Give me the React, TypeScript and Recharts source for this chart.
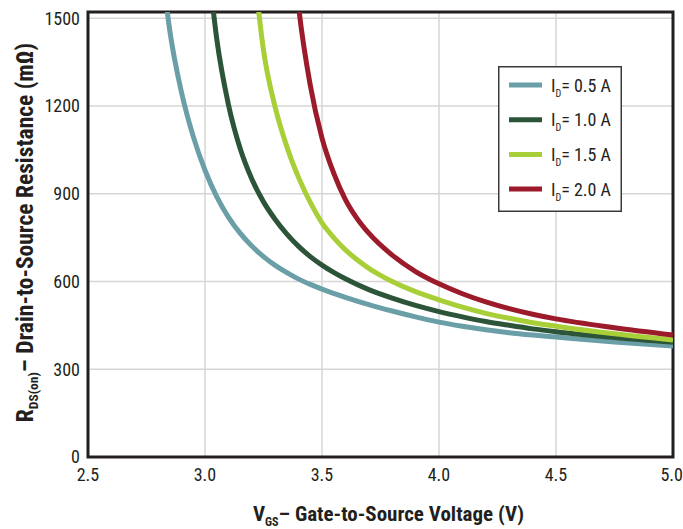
import React from 'react';
import { LineChart, Line, XAxis, YAxis, CartesianGrid, ReferenceArea, Legend } from 'recharts';

const FONT = '"Liberation Sans Narrow", "Roboto Condensed", "Liberation Sans", sans-serif';
const INK = '#231f20';

const xTicks = [2.5, 3.0, 3.5, 4.0, 4.5, 5.0];
const yTicks = [0, 300, 600, 900, 1200, 1500];

// I_D = 0.5 A
const vgs05 = [2.8, 2.85, 2.9, 2.95, 3.0, 3.05, 3.1, 3.15, 3.2, 3.25, 3.3, 3.35, 3.4, 3.45, 3.5, 3.6, 3.7, 3.8, 3.9, 4.0, 4.1, 4.2, 4.3, 4.4, 4.5, 4.75, 5.0];
const r05 = [1795, 1455, 1245, 1095, 980, 890, 820, 765, 721, 685, 655, 630, 608, 590, 574, 546, 521, 499, 479, 461, 447, 435, 425, 417, 410, 393, 379];
// I_D = 1.0 A
const vgs10 = [3.0, 3.05, 3.1, 3.15, 3.2, 3.25, 3.3, 3.35, 3.4, 3.45, 3.5, 3.55, 3.6, 3.7, 3.8, 3.9, 4.0, 4.1, 4.2, 4.3, 4.4, 4.5, 4.75, 5.0];
const r10 = [1800, 1430, 1205, 1055, 950, 872, 812, 762, 720, 685, 656, 631, 609, 572, 543, 518, 497, 479, 463, 450, 438, 428, 408, 392];
// I_D = 1.5 A
const vgs15 = [3.2, 3.25, 3.3, 3.35, 3.4, 3.45, 3.5, 3.55, 3.6, 3.65, 3.7, 3.75, 3.8, 3.9, 4.0, 4.1, 4.2, 4.3, 4.4, 4.5, 4.75, 5.0];
const r15 = [1750, 1390, 1195, 1060, 955, 870, 800, 750, 708, 674, 645, 621, 600, 565, 537, 512, 491, 474, 459, 447, 421, 400];
// I_D = 2.0 A
const vgs20 = [3.35, 3.4, 3.45, 3.5, 3.55, 3.6, 3.65, 3.7, 3.8, 3.9, 4.0, 4.1, 4.2, 4.3, 4.4, 4.5, 4.75, 5.0];
const r20 = [2000, 1540, 1270, 1090, 970, 880, 815, 765, 690, 634, 592, 558, 530, 507, 488, 472, 442, 417];

const seriesNames = ['0.5 A', '1.0 A', '1.5 A', '2.0 A'];
const seriesColors = ['#6a9fa8', '#2c5439', '#a8cf38', '#9b1b2b'];

const toPoints = (xs: number[], ys: number[]) => xs.map((x, i) => ({ vgs: x, r: ys[i] }));
const seriesData = [toPoints(vgs05, r05), toPoints(vgs10, r10), toPoints(vgs15, r15), toPoints(vgs20, r20)];

const XTitle = (props: any) => {
  const vb = props.viewBox || {};
  const cx = vb.x + vb.width / 2 + 8;
  return (
    <text x={cx} y={521} textAnchor="middle" fontFamily={FONT} fontWeight="bold" fontSize={21} fill={INK}>
      <tspan>V</tspan>
      <tspan fontSize={12} dy={5}>GS</tspan>
      <tspan dy={-5}>– Gate-to-Source Voltage (V)</tspan>
    </text>
  );
};

const YTitle = (props: any) => {
  const vb = props.viewBox || {};
  const cy = vb.y + vb.height / 2 - 2;
  const cx = 33;
  return (
    <text x={cx} y={cy} transform={`rotate(-90, ${cx}, ${cy})`} textAnchor="middle" fontFamily={FONT} fontWeight="bold" fontSize={23.5} fill={INK}>
      <tspan>R</tspan>
      <tspan fontSize={13.5} dy={5}>DS(on)</tspan>
      <tspan dy={-5}>– Drain-to-Source Resistance (mΩ)</tspan>
    </text>
  );
};

const LegendBox = () => (
  <svg width={124} height={146} style={{ display: 'block' }}>
    <rect x={0.75} y={0.75} width={122.5} height={144.5} fill="#fff" stroke="#3a3a3a" strokeWidth={1.5} />
    {seriesNames.map((n, i) => {
      const cy = 19 + i * 34.7;
      return (
        <g key={n}>
          <line x1={11} x2={44} y1={cy} y2={cy} stroke={seriesColors[i]} strokeWidth={5} />
          <text x={53} y={cy + 6.5} fontFamily={FONT} fontSize={18} fill={INK}>
            <tspan>I</tspan>
            <tspan fontSize={10} dy={5}>D</tspan>
            <tspan dy={-5}>{'= ' + n}</tspan>
          </text>
        </g>
      );
    })}
  </svg>
);

export default function App() {
  return (
    <div style={{ position: 'absolute', left: 0, top: 0 }}>
      <LineChart width={683} height={529} margin={{ top: 12, right: 10, bottom: 32, left: 0 }}>
        <CartesianGrid stroke="#d6d6d6" strokeWidth={1.5} />
        <XAxis
          type="number"
          dataKey="vgs"
          domain={[2.5, 5]}
          ticks={xTicks}
          allowDataOverflow
          height={40}
          tickSize={0}
          tickMargin={11}
          axisLine={false}
          tickFormatter={(v: number) => v.toFixed(1)}
          tick={{ fill: INK, fontSize: 18, fontFamily: FONT }}
          label={<XTitle />}
        />
        <YAxis
          type="number"
          dataKey="r"
          domain={[0, 1521]}
          ticks={yTicks}
          allowDataOverflow
          width={88}
          tickSize={0}
          tickMargin={8}
          axisLine={false}
          tick={{ fill: INK, fontSize: 18, fontFamily: FONT }}
          label={<YTitle />}
        />
        {seriesData.map((d, i) => (
          <Line
            key={seriesNames[i]}
            data={d}
            dataKey="r"
            name={seriesNames[i]}
            type="monotone"
            stroke={seriesColors[i]}
            strokeWidth={5}
            dot={false}
            isAnimationActive={false}
          />
        ))}
        <ReferenceArea x1={2.5} x2={5} y1={0} y2={1521} fill="none" stroke={INK} strokeWidth={3} ifOverflow="visible" />
        <Legend
          layout="vertical"
          align="center"
          verticalAlign="middle"
          wrapperStyle={{ left: 498, top: 66, width: 124, height: 146 }}
          content={() => <LegendBox />}
        />
      </LineChart>
    </div>
  );
}
